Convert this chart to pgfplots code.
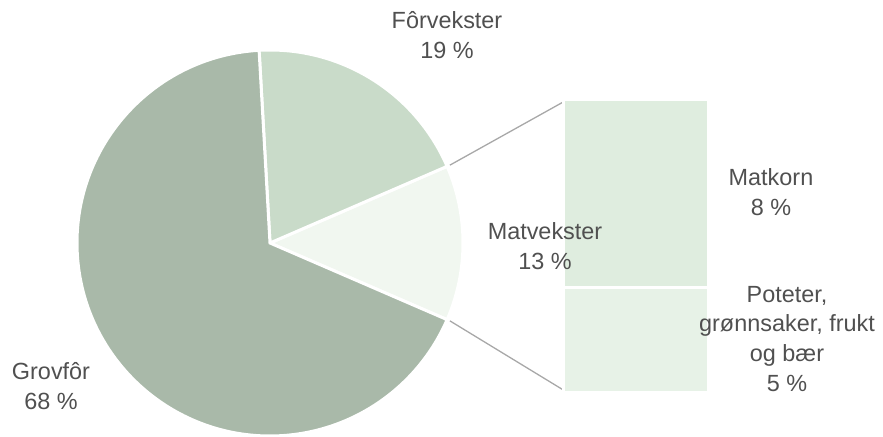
\documentclass[border=0pt]{standalone}
\usepackage{pgfplots}
\pgfplotsset{compat=1.18}
\usepackage{fontspec}
\setmainfont{Liberation Sans}
\definecolor{grov}{HTML}{A9B9A9}
\definecolor{forv}{HTML}{C9DBC9}
\definecolor{matv}{HTML}{F1F7F0}
\definecolor{matkorn}{HTML}{DFEDDF}
\definecolor{potet}{HTML}{E7F2E7}
\definecolor{txt}{HTML}{505050}
\definecolor{conn}{HTML}{A8A8A8}

% pie shares (%), counter-clockwise from the lower edge of Matvekster
\def\start{-23.4}
\def\matv{13.0}
\def\forv{19.4}
\def\grov{67.6}
\pgfmathsetmacro\aA{\start}
\pgfmathsetmacro\aB{\aA+\matv*3.6}
\pgfmathsetmacro\aC{\aB+\forv*3.6}
\pgfmathsetmacro\aD{\aC+\grov*3.6}

\begin{document}
\begin{tikzpicture}
\useasboundingbox (0,0) rectangle (883bp,437bp);
\tikzset{lbl/.style={text=txt, align=center, font=\fontsize{23.5}{30}\selectfont}}
\begin{axis}[
    at={(0,0)}, anchor=south west,
    x=1bp, y=1bp,
    xmin=0, xmax=883, ymin=0, ymax=437,
    hide axis, clip=false]
\filldraw[fill=matv, draw=white, line width=3bp]
    (axis cs:270,194) -- ++(\aA:193bp) arc[start angle=\aA, end angle=\aB, radius=193bp] -- cycle;
\filldraw[fill=forv, draw=white, line width=3bp]
    (axis cs:270,194) -- ++(\aB:193bp) arc[start angle=\aB, end angle=\aC, radius=193bp] -- cycle;
\filldraw[fill=grov, draw=white, line width=3bp]
    (axis cs:270,194) -- ++(\aC:193bp) arc[start angle=\aC, end angle=\aD, radius=193bp] -- cycle;
% connectors to the bar
\draw[conn, line width=1.3bp] (axis cs:270,194) ++(\aB:196bp) -- (axis cs:565,336);
\draw[conn, line width=1.3bp] (axis cs:270,194) ++(\aA:196bp) -- (axis cs:565,46);
\node[lbl] at (axis cs:447,402) {Fôrvekster\\19 \%};
\node[lbl] at (axis cs:51,51) {Grovfôr\\68 \%};
\node[lbl] at (axis cs:771,245) {Matkorn\\8 \%};
\end{axis}
\begin{axis}[
    at={(563.5bp,44.5bp)}, anchor=south west,
    width=145bp, height=293bp, scale only axis,
    xmin=-0.5, xmax=0.5, ymin=0, ymax=13,
    hide axis, clip=false,
    ybar stacked, bar width=1, bar shift=0]
\addplot[fill=potet, draw=white, line width=3bp] coordinates {(0,4.65)};
\addplot[fill=matkorn, draw=white, line width=3bp] coordinates {(0,8.35)};
\end{axis}
% labels that lie over the bar
\begin{axis}[
    at={(0,0)}, anchor=south west,
    x=1bp, y=1bp,
    xmin=0, xmax=883, ymin=0, ymax=437,
    hide axis, clip=false]
\node[lbl] at (axis cs:545,191) {Matvekster\\13 \%};
\node[lbl] at (axis cs:787,98) {Poteter,\\grønnsaker, frukt\\og bær\\5 \%};
\end{axis}
\end{tikzpicture}
\end{document}
